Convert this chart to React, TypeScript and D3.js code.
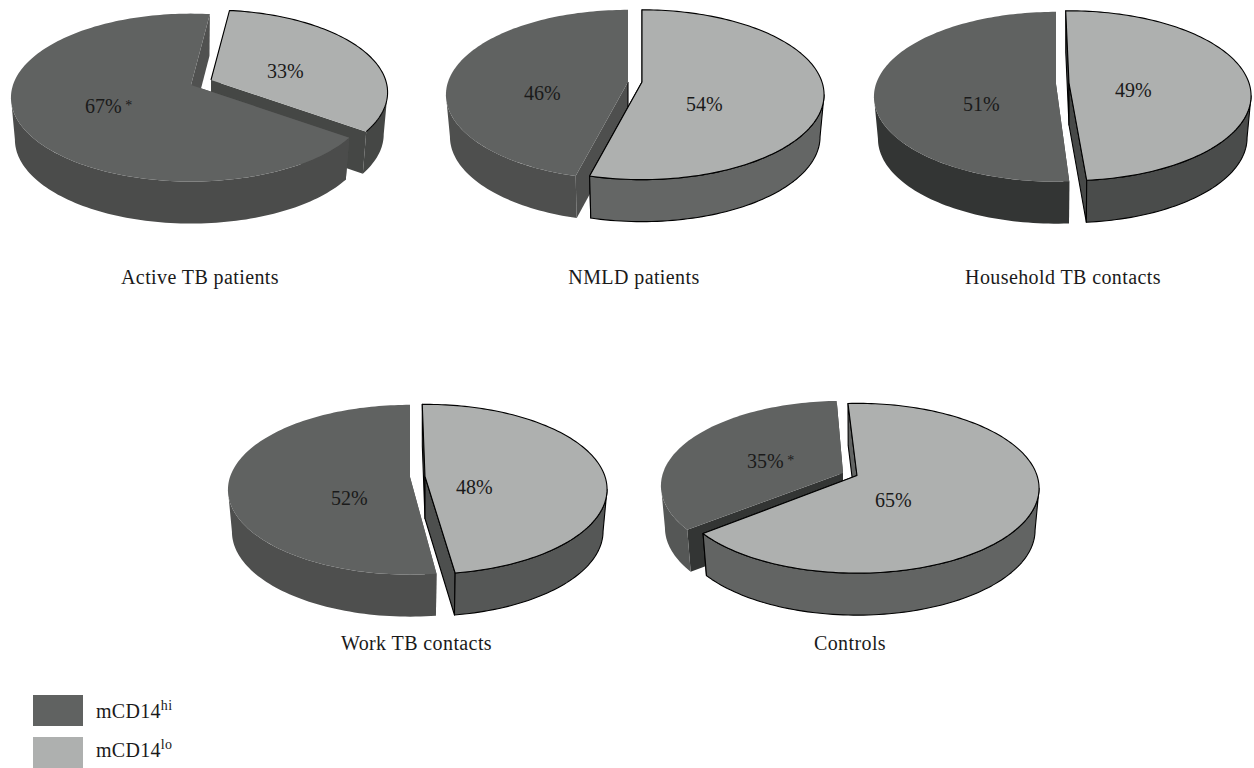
import React from "react";
import * as d3 from "d3";

// Share of mCD14hi / mCD14lo monocytes per study group
const categories = ["Active TB patients", "NMLD patients", "Household TB contacts", "Work TB contacts", "Controls"];
const hiValues = [67, 46, 51, 52, 35];
const loValues = [33, 54, 49, 48, 65];
const hiMarks = [" *", "", "", "", " *"];

// Rotation of the first (lo) slice, degrees clockwise from the far side of the disc
const rotations = [7, 0, -1.2, -1, -3.3];
// Extra turn of the exploded hi slice caused by the camera perspective
const hiTilt = [0, 0, 1.2, 1, 1];

// Layout of each 3D pie
const hiApex: [number, number][] = [[191, 85], [628, 82], [1056, 84], [410, 477], [843, 473]];
const loApex: [number, number][] = [[211, 80], [642, 82], [1069, 83], [425, 476.5], [857, 475.5]];
const hiScale = [0.989, 1, 1, 1, 1];
const loScale = [0.97, 1, 1, 1, 1];
const hiSeam = [false, true, false, false, false];
const hiLabelPos: [number, number][] = [[85, 113], [524, 100], [963, 111], [331, 505], [747, 468]];
const loLabelPos: [number, number][] = [[267, 78], [686, 111], [1115, 97], [456, 494], [875, 507]];
const titleX = [200, 634, 1063, 416.5, 850];
const titleY = [284, 284, 284, 650, 650];

const TOP_HI = "#606261";
const TOP_LO = "#aeb0af";
const hiOuter = ["#4b4c4b", "#4e4f4e", "#333534", "#4e4f4e", "#555756"];
const hiRadial = ["#505150", "#4e4f4e", "#333534", "#4e4f4e", "#333534"];
const loOuter = ["#454745", "#646665", "#4a4c4b", "#555756", "#626463"];
const loRadial = ["#454745", "#646665", "#474948", "#4d4f4e", "#626463"];
// The first pie's lo slice has an outline on its top face only
const loWallStroke = [false, true, true, true, true];

const RX = 180;
const RY = 83;
const PERSPECTIVE = 0.15;
const DEPTH = 42;
const BASE_SHRINK = 0.978;
const W = 1254;
const H = 768;
const FONT = "'Liberation Serif', serif";
const TAU = 2 * Math.PI;

type Pt = [number, number];

// Perspective projection of a rim point, relative to the slice apex
const project = (apex: Pt, angle: number, scale: number): Pt => {
  const u = Math.sin(angle);
  const v = Math.cos(angle);
  const w = 1 + PERSPECTIVE * v;
  return [apex[0] + (scale * RX * u) / w, apex[1] - (scale * RY * v) / w];
};

// The base of the disc sits lower and slightly further from the camera
const lower = (apex: Pt, p: Pt): Pt => [apex[0] + (p[0] - apex[0]) * BASE_SHRINK, p[1] + DEPTH];

const line = d3.line<Pt>();
const closed = (pts: Pt[]) => line(pts) + "Z";

const rimPoints = (apex: Pt, a0: number, a1: number, scale: number): Pt[] => {
  const n = Math.max(8, Math.ceil(Math.abs(a1 - a0) * 40));
  return d3.range(n + 1).map((i) => project(apex, a0 + ((a1 - a0) * i) / n, scale));
};

// Portion of a slice's rim facing the camera, between the two silhouette tangents
const nearRange = (a0: number, a1: number): [number, number] | null => {
  const right = Math.acos(-PERSPECTIVE);
  const left = TAU - right;
  for (const wrap of [0, TAU, -TAU]) {
    const from = Math.max(a0 + wrap, right);
    const to = Math.min(a1 + wrap, left);
    if (from < to) return [from, to];
  }
  return null;
};

type SliceSpec = {
  apex: Pt; a0: number; a1: number; scale: number; top: string; outer: string; radial: string;
  outlineTop: boolean; outlineWalls: boolean; seam: boolean;
};

function Slice({ s }: { s: SliceSpec }) {
  const rim = rimPoints(s.apex, s.a0, s.a1, s.scale);
  const first = rim[0];
  const last = rim[rim.length - 1];
  const near = nearRange(s.a0, s.a1);
  const nearRim = near ? rimPoints(s.apex, near[0], near[1], s.scale) : [];
  const base = (p: Pt) => lower(s.apex, p);
  const stroke = s.outlineWalls ? "#000" : "none";
  return (
    <g strokeWidth={1.1} strokeLinejoin="round">
      <path d={closed([s.apex, first, base(first), base(s.apex)])} fill={s.radial} stroke={stroke} />
      <path d={closed([s.apex, last, base(last), base(s.apex)])} fill={s.radial} stroke={stroke} />
      {s.seam && <path d={line([s.apex, base(s.apex)])!} stroke="#000" fill="none" />}
      {near && (
        <path d={closed([...nearRim, ...nearRim.map(base).reverse()])} fill={s.outer} stroke={stroke} />
      )}
      <path d={closed([s.apex, ...rim])} fill={s.top} stroke="none" />
      {s.outlineTop && (
        <path
          d={s.outlineWalls ? closed([s.apex, ...rim]) : line([s.apex, ...rim])!}
          fill="none"
          stroke="#000"
        />
      )}
    </g>
  );
}

function Pie3D({ index }: { index: number }) {
  const start = (rotations[index] * Math.PI) / 180;
  const tilt = (hiTilt[index] * Math.PI) / 180;
  const arcs = d3
    .pie<number>()
    .value((d) => d)
    .sort(null)
    .startAngle(start)
    .endAngle(start + TAU)([loValues[index], hiValues[index]]);
  const specs: SliceSpec[] = [
    {
      apex: loApex[index], a0: arcs[0].startAngle, a1: arcs[0].endAngle, scale: loScale[index],
      top: TOP_LO, outer: loOuter[index], radial: loRadial[index],
      outlineTop: true, outlineWalls: loWallStroke[index], seam: false,
    },
    {
      apex: hiApex[index], a0: arcs[1].startAngle + tilt, a1: arcs[1].endAngle + tilt, scale: hiScale[index],
      top: TOP_HI, outer: hiOuter[index], radial: hiRadial[index],
      outlineTop: false, outlineWalls: false, seam: hiSeam[index],
    },
  ];
  // Slices on the far side of the disc are painted first
  const ordered = [...specs].sort(
    (a, b) => Math.cos((b.a0 + b.a1) / 2) - Math.cos((a.a0 + a.a1) / 2)
  );
  return (
    <g>
      {ordered.map((s, i) => <Slice key={i} s={s} />)}
      <text x={hiLabelPos[index][0]} y={hiLabelPos[index][1]} fontSize={20}>
        {hiValues[index]}%
        {hiMarks[index] && <tspan fontSize={14} dy={-3}>{hiMarks[index]}</tspan>}
      </text>
      <text x={loLabelPos[index][0]} y={loLabelPos[index][1]} fontSize={20}>
        {loValues[index]}%
      </text>
      <text x={titleX[index]} y={titleY[index]} fontSize={20} letterSpacing={0.4} textAnchor="middle">
        {categories[index]}
      </text>
    </g>
  );
}

const legendKeys = [
  { sup: "hi", color: TOP_HI, y: 695, base: 718 },
  { sup: "lo", color: TOP_LO, y: 737, base: 757 },
];

export default function App() {
  return (
    <svg
      width={W}
      height={H}
      viewBox={`0 0 ${W} ${H}`}
      style={{ position: "absolute", left: 0, top: 0, background: "#fff" }}
      fontFamily={FONT}
      fill="#1a1a1a"
    >
      {categories.map((_, i) => <Pie3D key={i} index={i} />)}
      {legendKeys.map((k) => (
        <g key={k.sup}>
          <rect x={33} y={k.y} width={50} height={31} fill={k.color} />
          <text x={96} y={k.base} fontSize={20} letterSpacing={0.3}>
            mCD14
            <tspan fontSize={14} dy={-8}>{k.sup}</tspan>
          </text>
        </g>
      ))}
    </svg>
  );
}
